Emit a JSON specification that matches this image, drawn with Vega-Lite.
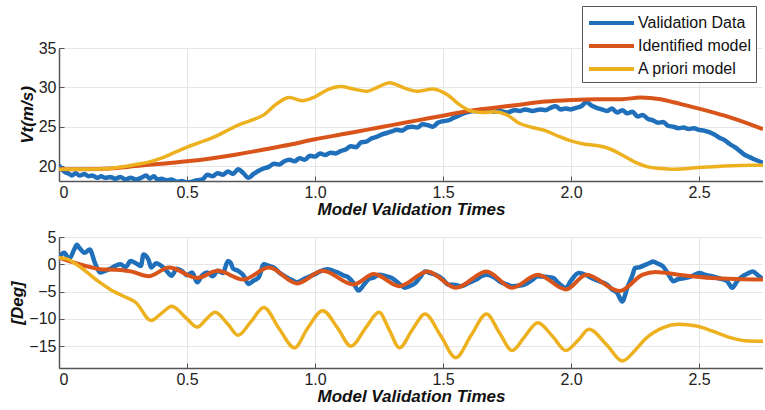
{
  "$schema": "https://vega.github.io/schema/vega-lite/v6.json",
  "padding": {"left": 8, "top": 5, "right": 0, "bottom": 3},
  "spacing": 12,
  "background": "white",
  "config": {
    "view": {"stroke": null},
    "font": "Liberation Sans",
    "axis": {
      "labelFont": "Liberation Sans",
      "labelFontSize": 16,
      "labelColor": "#222",
      "titleFont": "Liberation Sans",
      "titleFontSize": 17,
      "titleFontWeight": "bold",
      "titleFontStyle": "italic",
      "titleColor": "#111",
      "grid": true,
      "gridColor": "#e6e6e6",
      "domainColor": "#555",
      "domainWidth": 1.5,
      "tickColor": "#555",
      "tickSize": -5,
      "labelPadding": 8
    },
    "legend": {
      "labelFont": "Liberation Sans",
      "labelFontSize": 16,
      "labelColor": "#111"
    }
  },
  "datasets": {
    "top": [
      {"t": 0, "v": 20.1, "s": "Validation Data"},
      {"t": 0.01, "v": 19.6, "s": "Validation Data"},
      {"t": 0.025, "v": 19.2, "s": "Validation Data"},
      {"t": 0.04, "v": 19.0, "s": "Validation Data"},
      {"t": 0.05, "v": 18.8, "s": "Validation Data"},
      {"t": 0.065, "v": 19.1, "s": "Validation Data"},
      {"t": 0.08, "v": 18.8, "s": "Validation Data"},
      {"t": 0.1, "v": 19.0, "s": "Validation Data"},
      {"t": 0.115, "v": 18.7, "s": "Validation Data"},
      {"t": 0.13, "v": 18.8, "s": "Validation Data"},
      {"t": 0.15, "v": 18.5, "s": "Validation Data"},
      {"t": 0.165, "v": 18.7, "s": "Validation Data"},
      {"t": 0.18, "v": 18.5, "s": "Validation Data"},
      {"t": 0.2, "v": 18.6, "s": "Validation Data"},
      {"t": 0.22, "v": 18.4, "s": "Validation Data"},
      {"t": 0.24, "v": 18.6, "s": "Validation Data"},
      {"t": 0.26, "v": 18.3, "s": "Validation Data"},
      {"t": 0.28, "v": 18.5, "s": "Validation Data"},
      {"t": 0.3, "v": 18.3, "s": "Validation Data"},
      {"t": 0.32, "v": 18.5, "s": "Validation Data"},
      {"t": 0.34, "v": 18.8, "s": "Validation Data"},
      {"t": 0.355, "v": 18.4, "s": "Validation Data"},
      {"t": 0.37, "v": 18.7, "s": "Validation Data"},
      {"t": 0.385, "v": 18.3, "s": "Validation Data"},
      {"t": 0.4, "v": 18.4, "s": "Validation Data"},
      {"t": 0.42, "v": 18.2, "s": "Validation Data"},
      {"t": 0.44, "v": 18.3, "s": "Validation Data"},
      {"t": 0.46, "v": 18.0, "s": "Validation Data"},
      {"t": 0.48, "v": 18.1, "s": "Validation Data"},
      {"t": 0.5, "v": 17.9, "s": "Validation Data"},
      {"t": 0.52, "v": 18.0, "s": "Validation Data"},
      {"t": 0.54, "v": 18.2, "s": "Validation Data"},
      {"t": 0.56, "v": 18.3, "s": "Validation Data"},
      {"t": 0.58, "v": 18.9, "s": "Validation Data"},
      {"t": 0.6, "v": 18.7, "s": "Validation Data"},
      {"t": 0.62, "v": 19.1, "s": "Validation Data"},
      {"t": 0.64, "v": 18.9, "s": "Validation Data"},
      {"t": 0.66, "v": 19.3, "s": "Validation Data"},
      {"t": 0.68, "v": 19.0, "s": "Validation Data"},
      {"t": 0.7, "v": 19.6, "s": "Validation Data"},
      {"t": 0.72, "v": 19.1, "s": "Validation Data"},
      {"t": 0.74, "v": 18.5, "s": "Validation Data"},
      {"t": 0.76, "v": 19.0, "s": "Validation Data"},
      {"t": 0.78, "v": 19.4, "s": "Validation Data"},
      {"t": 0.8, "v": 19.7, "s": "Validation Data"},
      {"t": 0.82, "v": 19.9, "s": "Validation Data"},
      {"t": 0.84, "v": 20.3, "s": "Validation Data"},
      {"t": 0.86, "v": 20.2, "s": "Validation Data"},
      {"t": 0.88, "v": 20.6, "s": "Validation Data"},
      {"t": 0.9, "v": 20.8, "s": "Validation Data"},
      {"t": 0.92, "v": 20.6, "s": "Validation Data"},
      {"t": 0.94, "v": 21.0, "s": "Validation Data"},
      {"t": 0.96, "v": 20.8, "s": "Validation Data"},
      {"t": 0.98, "v": 21.3, "s": "Validation Data"},
      {"t": 1.0, "v": 21.2, "s": "Validation Data"},
      {"t": 1.02, "v": 21.6, "s": "Validation Data"},
      {"t": 1.04, "v": 21.4, "s": "Validation Data"},
      {"t": 1.06, "v": 21.7, "s": "Validation Data"},
      {"t": 1.08, "v": 21.6, "s": "Validation Data"},
      {"t": 1.1, "v": 21.9, "s": "Validation Data"},
      {"t": 1.12, "v": 22.1, "s": "Validation Data"},
      {"t": 1.14, "v": 22.5, "s": "Validation Data"},
      {"t": 1.16, "v": 22.4, "s": "Validation Data"},
      {"t": 1.18, "v": 23.0, "s": "Validation Data"},
      {"t": 1.2, "v": 23.1, "s": "Validation Data"},
      {"t": 1.22, "v": 23.5, "s": "Validation Data"},
      {"t": 1.24, "v": 23.7, "s": "Validation Data"},
      {"t": 1.26, "v": 24.0, "s": "Validation Data"},
      {"t": 1.28, "v": 24.2, "s": "Validation Data"},
      {"t": 1.3, "v": 24.4, "s": "Validation Data"},
      {"t": 1.32, "v": 24.6, "s": "Validation Data"},
      {"t": 1.34, "v": 24.5, "s": "Validation Data"},
      {"t": 1.36, "v": 24.9, "s": "Validation Data"},
      {"t": 1.38, "v": 25.0, "s": "Validation Data"},
      {"t": 1.4, "v": 24.9, "s": "Validation Data"},
      {"t": 1.42, "v": 25.3, "s": "Validation Data"},
      {"t": 1.44, "v": 25.2, "s": "Validation Data"},
      {"t": 1.46, "v": 25.0, "s": "Validation Data"},
      {"t": 1.48, "v": 25.5, "s": "Validation Data"},
      {"t": 1.5, "v": 25.7, "s": "Validation Data"},
      {"t": 1.52, "v": 25.8, "s": "Validation Data"},
      {"t": 1.54, "v": 26.1, "s": "Validation Data"},
      {"t": 1.56, "v": 26.4, "s": "Validation Data"},
      {"t": 1.58, "v": 26.7, "s": "Validation Data"},
      {"t": 1.6, "v": 26.9, "s": "Validation Data"},
      {"t": 1.62, "v": 27.0, "s": "Validation Data"},
      {"t": 1.65, "v": 26.9, "s": "Validation Data"},
      {"t": 1.68, "v": 27.1, "s": "Validation Data"},
      {"t": 1.7, "v": 26.9, "s": "Validation Data"},
      {"t": 1.72, "v": 27.0, "s": "Validation Data"},
      {"t": 1.75, "v": 26.8, "s": "Validation Data"},
      {"t": 1.78, "v": 27.1, "s": "Validation Data"},
      {"t": 1.8, "v": 27.0, "s": "Validation Data"},
      {"t": 1.82, "v": 27.2, "s": "Validation Data"},
      {"t": 1.85, "v": 27.0, "s": "Validation Data"},
      {"t": 1.88, "v": 27.2, "s": "Validation Data"},
      {"t": 1.9, "v": 27.1, "s": "Validation Data"},
      {"t": 1.92, "v": 27.4, "s": "Validation Data"},
      {"t": 1.94, "v": 27.6, "s": "Validation Data"},
      {"t": 1.96, "v": 27.2, "s": "Validation Data"},
      {"t": 1.98, "v": 27.3, "s": "Validation Data"},
      {"t": 2.0, "v": 27.2, "s": "Validation Data"},
      {"t": 2.02, "v": 27.4, "s": "Validation Data"},
      {"t": 2.04, "v": 27.6, "s": "Validation Data"},
      {"t": 2.06, "v": 28.1, "s": "Validation Data"},
      {"t": 2.08, "v": 27.7, "s": "Validation Data"},
      {"t": 2.1, "v": 27.4, "s": "Validation Data"},
      {"t": 2.12, "v": 27.2, "s": "Validation Data"},
      {"t": 2.14, "v": 27.0, "s": "Validation Data"},
      {"t": 2.16, "v": 27.3, "s": "Validation Data"},
      {"t": 2.18, "v": 26.8, "s": "Validation Data"},
      {"t": 2.2, "v": 27.1, "s": "Validation Data"},
      {"t": 2.22, "v": 26.7, "s": "Validation Data"},
      {"t": 2.24, "v": 26.9, "s": "Validation Data"},
      {"t": 2.26, "v": 26.3, "s": "Validation Data"},
      {"t": 2.28, "v": 26.5, "s": "Validation Data"},
      {"t": 2.3, "v": 26.0, "s": "Validation Data"},
      {"t": 2.32, "v": 25.8, "s": "Validation Data"},
      {"t": 2.34, "v": 25.5, "s": "Validation Data"},
      {"t": 2.36, "v": 25.6, "s": "Validation Data"},
      {"t": 2.38, "v": 25.1, "s": "Validation Data"},
      {"t": 2.4, "v": 25.0, "s": "Validation Data"},
      {"t": 2.42, "v": 24.8, "s": "Validation Data"},
      {"t": 2.44, "v": 24.9, "s": "Validation Data"},
      {"t": 2.46, "v": 24.7, "s": "Validation Data"},
      {"t": 2.48, "v": 24.8, "s": "Validation Data"},
      {"t": 2.5, "v": 24.6, "s": "Validation Data"},
      {"t": 2.52, "v": 24.5, "s": "Validation Data"},
      {"t": 2.54, "v": 24.3, "s": "Validation Data"},
      {"t": 2.56, "v": 24.0, "s": "Validation Data"},
      {"t": 2.58, "v": 23.6, "s": "Validation Data"},
      {"t": 2.6, "v": 23.3, "s": "Validation Data"},
      {"t": 2.62, "v": 22.8, "s": "Validation Data"},
      {"t": 2.64, "v": 22.4, "s": "Validation Data"},
      {"t": 2.66, "v": 21.9, "s": "Validation Data"},
      {"t": 2.68, "v": 21.4, "s": "Validation Data"},
      {"t": 2.7, "v": 21.1, "s": "Validation Data"},
      {"t": 2.72, "v": 20.8, "s": "Validation Data"},
      {"t": 2.75, "v": 20.4, "s": "Validation Data"},
      {"t": 0, "v": 19.6, "s": "Identified model"},
      {"t": 0.1, "v": 19.6, "s": "Identified model"},
      {"t": 0.2, "v": 19.7, "s": "Identified model"},
      {"t": 0.3, "v": 20.0, "s": "Identified model"},
      {"t": 0.4, "v": 20.3, "s": "Identified model"},
      {"t": 0.5, "v": 20.6, "s": "Identified model"},
      {"t": 0.6, "v": 21.0, "s": "Identified model"},
      {"t": 0.7, "v": 21.5, "s": "Identified model"},
      {"t": 0.8, "v": 22.1, "s": "Identified model"},
      {"t": 0.9, "v": 22.7, "s": "Identified model"},
      {"t": 1.0, "v": 23.4, "s": "Identified model"},
      {"t": 1.1, "v": 24.0, "s": "Identified model"},
      {"t": 1.2, "v": 24.6, "s": "Identified model"},
      {"t": 1.3, "v": 25.2, "s": "Identified model"},
      {"t": 1.4, "v": 25.8, "s": "Identified model"},
      {"t": 1.5, "v": 26.4, "s": "Identified model"},
      {"t": 1.6, "v": 27.0, "s": "Identified model"},
      {"t": 1.7, "v": 27.4, "s": "Identified model"},
      {"t": 1.8, "v": 27.8, "s": "Identified model"},
      {"t": 1.9, "v": 28.2, "s": "Identified model"},
      {"t": 2.0, "v": 28.4, "s": "Identified model"},
      {"t": 2.1, "v": 28.5, "s": "Identified model"},
      {"t": 2.2, "v": 28.5, "s": "Identified model"},
      {"t": 2.27, "v": 28.7, "s": "Identified model"},
      {"t": 2.35, "v": 28.5, "s": "Identified model"},
      {"t": 2.4, "v": 28.1, "s": "Identified model"},
      {"t": 2.5, "v": 27.3, "s": "Identified model"},
      {"t": 2.6, "v": 26.4, "s": "Identified model"},
      {"t": 2.7, "v": 25.3, "s": "Identified model"},
      {"t": 2.75, "v": 24.7, "s": "Identified model"},
      {"t": 0, "v": 19.6, "s": "A priori model"},
      {"t": 0.1, "v": 19.6, "s": "A priori model"},
      {"t": 0.2, "v": 19.7, "s": "A priori model"},
      {"t": 0.25, "v": 19.9, "s": "A priori model"},
      {"t": 0.3, "v": 20.2, "s": "A priori model"},
      {"t": 0.35, "v": 20.5, "s": "A priori model"},
      {"t": 0.4, "v": 21.0, "s": "A priori model"},
      {"t": 0.45, "v": 21.7, "s": "A priori model"},
      {"t": 0.5, "v": 22.4, "s": "A priori model"},
      {"t": 0.55, "v": 23.0, "s": "A priori model"},
      {"t": 0.6, "v": 23.6, "s": "A priori model"},
      {"t": 0.65, "v": 24.4, "s": "A priori model"},
      {"t": 0.7, "v": 25.2, "s": "A priori model"},
      {"t": 0.75, "v": 25.8, "s": "A priori model"},
      {"t": 0.8, "v": 26.5, "s": "A priori model"},
      {"t": 0.85, "v": 27.9, "s": "A priori model"},
      {"t": 0.9, "v": 28.7, "s": "A priori model"},
      {"t": 0.95, "v": 28.3, "s": "A priori model"},
      {"t": 1.0, "v": 28.8, "s": "A priori model"},
      {"t": 1.05, "v": 29.7, "s": "A priori model"},
      {"t": 1.1, "v": 30.1, "s": "A priori model"},
      {"t": 1.15, "v": 29.8, "s": "A priori model"},
      {"t": 1.2, "v": 29.5, "s": "A priori model"},
      {"t": 1.25, "v": 30.1, "s": "A priori model"},
      {"t": 1.29, "v": 30.6, "s": "A priori model"},
      {"t": 1.35, "v": 29.9, "s": "A priori model"},
      {"t": 1.4, "v": 29.5, "s": "A priori model"},
      {"t": 1.46, "v": 29.8, "s": "A priori model"},
      {"t": 1.52, "v": 29.0, "s": "A priori model"},
      {"t": 1.56, "v": 27.9, "s": "A priori model"},
      {"t": 1.6, "v": 27.1, "s": "A priori model"},
      {"t": 1.65, "v": 26.8, "s": "A priori model"},
      {"t": 1.7, "v": 26.9, "s": "A priori model"},
      {"t": 1.75, "v": 26.5, "s": "A priori model"},
      {"t": 1.8, "v": 25.4, "s": "A priori model"},
      {"t": 1.85, "v": 24.9, "s": "A priori model"},
      {"t": 1.9, "v": 24.5, "s": "A priori model"},
      {"t": 1.95, "v": 23.8, "s": "A priori model"},
      {"t": 2.0, "v": 23.2, "s": "A priori model"},
      {"t": 2.05, "v": 22.8, "s": "A priori model"},
      {"t": 2.1, "v": 22.6, "s": "A priori model"},
      {"t": 2.15, "v": 22.2, "s": "A priori model"},
      {"t": 2.2, "v": 21.4, "s": "A priori model"},
      {"t": 2.25, "v": 20.5, "s": "A priori model"},
      {"t": 2.3, "v": 19.9, "s": "A priori model"},
      {"t": 2.35, "v": 19.7, "s": "A priori model"},
      {"t": 2.4, "v": 19.6, "s": "A priori model"},
      {"t": 2.5, "v": 19.8, "s": "A priori model"},
      {"t": 2.6, "v": 20.0, "s": "A priori model"},
      {"t": 2.7, "v": 20.1, "s": "A priori model"},
      {"t": 2.75, "v": 20.1, "s": "A priori model"}
    ],
    "bottom": [
      {"t": 0, "v": 1.2, "s": "Validation Data"},
      {"t": 0.02, "v": 2.1, "s": "Validation Data"},
      {"t": 0.04, "v": 1.0, "s": "Validation Data"},
      {"t": 0.06, "v": 2.8, "s": "Validation Data"},
      {"t": 0.07, "v": 3.6, "s": "Validation Data"},
      {"t": 0.08, "v": 3.0, "s": "Validation Data"},
      {"t": 0.1, "v": 2.1, "s": "Validation Data"},
      {"t": 0.12, "v": 2.7, "s": "Validation Data"},
      {"t": 0.14, "v": 0.3, "s": "Validation Data"},
      {"t": 0.16, "v": -1.5, "s": "Validation Data"},
      {"t": 0.18, "v": -1.2, "s": "Validation Data"},
      {"t": 0.2, "v": -0.8, "s": "Validation Data"},
      {"t": 0.22, "v": -0.3, "s": "Validation Data"},
      {"t": 0.24, "v": 0.0, "s": "Validation Data"},
      {"t": 0.26, "v": -0.5, "s": "Validation Data"},
      {"t": 0.28, "v": 0.6, "s": "Validation Data"},
      {"t": 0.3, "v": 0.2, "s": "Validation Data"},
      {"t": 0.32, "v": -0.3, "s": "Validation Data"},
      {"t": 0.33, "v": 1.8, "s": "Validation Data"},
      {"t": 0.35, "v": 0.8, "s": "Validation Data"},
      {"t": 0.36, "v": -0.6, "s": "Validation Data"},
      {"t": 0.38, "v": 0.2, "s": "Validation Data"},
      {"t": 0.4, "v": -0.3, "s": "Validation Data"},
      {"t": 0.42, "v": -1.2, "s": "Validation Data"},
      {"t": 0.44, "v": -2.1, "s": "Validation Data"},
      {"t": 0.46, "v": -0.8, "s": "Validation Data"},
      {"t": 0.48, "v": -1.2, "s": "Validation Data"},
      {"t": 0.5, "v": -2.0, "s": "Validation Data"},
      {"t": 0.52, "v": -1.5, "s": "Validation Data"},
      {"t": 0.54, "v": -3.3, "s": "Validation Data"},
      {"t": 0.56, "v": -2.0, "s": "Validation Data"},
      {"t": 0.58, "v": -1.5, "s": "Validation Data"},
      {"t": 0.6, "v": -2.2, "s": "Validation Data"},
      {"t": 0.62, "v": -1.2, "s": "Validation Data"},
      {"t": 0.64, "v": -1.6, "s": "Validation Data"},
      {"t": 0.66, "v": 0.6, "s": "Validation Data"},
      {"t": 0.67, "v": 0.3, "s": "Validation Data"},
      {"t": 0.68, "v": -0.8, "s": "Validation Data"},
      {"t": 0.7, "v": -1.2, "s": "Validation Data"},
      {"t": 0.72, "v": -2.0, "s": "Validation Data"},
      {"t": 0.74, "v": -3.6, "s": "Validation Data"},
      {"t": 0.76, "v": -3.0, "s": "Validation Data"},
      {"t": 0.78, "v": -2.4, "s": "Validation Data"},
      {"t": 0.8, "v": 0.0, "s": "Validation Data"},
      {"t": 0.82, "v": -0.3, "s": "Validation Data"},
      {"t": 0.84, "v": -0.6, "s": "Validation Data"},
      {"t": 0.86, "v": -1.5, "s": "Validation Data"},
      {"t": 0.89, "v": -2.4, "s": "Validation Data"},
      {"t": 0.91, "v": -2.9, "s": "Validation Data"},
      {"t": 0.93, "v": -3.3, "s": "Validation Data"},
      {"t": 0.96, "v": -2.6, "s": "Validation Data"},
      {"t": 1.0, "v": -1.8, "s": "Validation Data"},
      {"t": 1.02, "v": -1.3, "s": "Validation Data"},
      {"t": 1.05, "v": -0.9, "s": "Validation Data"},
      {"t": 1.07, "v": -1.2, "s": "Validation Data"},
      {"t": 1.09, "v": -1.5, "s": "Validation Data"},
      {"t": 1.11, "v": -2.0, "s": "Validation Data"},
      {"t": 1.13, "v": -2.4, "s": "Validation Data"},
      {"t": 1.15, "v": -3.4, "s": "Validation Data"},
      {"t": 1.17, "v": -4.8, "s": "Validation Data"},
      {"t": 1.19, "v": -3.8, "s": "Validation Data"},
      {"t": 1.21, "v": -2.7, "s": "Validation Data"},
      {"t": 1.23, "v": -2.4, "s": "Validation Data"},
      {"t": 1.25, "v": -1.9, "s": "Validation Data"},
      {"t": 1.28, "v": -2.2, "s": "Validation Data"},
      {"t": 1.3, "v": -2.5, "s": "Validation Data"},
      {"t": 1.33, "v": -3.6, "s": "Validation Data"},
      {"t": 1.35, "v": -4.3, "s": "Validation Data"},
      {"t": 1.37, "v": -4.0, "s": "Validation Data"},
      {"t": 1.39, "v": -3.5, "s": "Validation Data"},
      {"t": 1.41, "v": -2.4, "s": "Validation Data"},
      {"t": 1.43, "v": -1.3, "s": "Validation Data"},
      {"t": 1.45, "v": -1.6, "s": "Validation Data"},
      {"t": 1.47, "v": -1.9, "s": "Validation Data"},
      {"t": 1.5, "v": -2.8, "s": "Validation Data"},
      {"t": 1.52, "v": -3.7, "s": "Validation Data"},
      {"t": 1.55, "v": -3.8, "s": "Validation Data"},
      {"t": 1.57, "v": -4.0, "s": "Validation Data"},
      {"t": 1.6, "v": -3.4, "s": "Validation Data"},
      {"t": 1.63, "v": -2.8, "s": "Validation Data"},
      {"t": 1.65, "v": -2.2, "s": "Validation Data"},
      {"t": 1.67, "v": -1.9, "s": "Validation Data"},
      {"t": 1.7, "v": -2.4, "s": "Validation Data"},
      {"t": 1.72, "v": -3.1, "s": "Validation Data"},
      {"t": 1.75, "v": -3.7, "s": "Validation Data"},
      {"t": 1.77, "v": -4.0, "s": "Validation Data"},
      {"t": 1.8, "v": -3.9, "s": "Validation Data"},
      {"t": 1.82, "v": -3.7, "s": "Validation Data"},
      {"t": 1.85, "v": -2.8, "s": "Validation Data"},
      {"t": 1.87, "v": -2.2, "s": "Validation Data"},
      {"t": 1.9, "v": -2.3, "s": "Validation Data"},
      {"t": 1.93, "v": -2.5, "s": "Validation Data"},
      {"t": 1.95, "v": -3.4, "s": "Validation Data"},
      {"t": 1.98, "v": -4.3, "s": "Validation Data"},
      {"t": 2.0, "v": -3.0, "s": "Validation Data"},
      {"t": 2.03, "v": -1.6, "s": "Validation Data"},
      {"t": 2.06, "v": -2.0, "s": "Validation Data"},
      {"t": 2.08, "v": -2.5, "s": "Validation Data"},
      {"t": 2.11, "v": -3.1, "s": "Validation Data"},
      {"t": 2.14, "v": -3.7, "s": "Validation Data"},
      {"t": 2.16, "v": -4.6, "s": "Validation Data"},
      {"t": 2.18, "v": -5.2, "s": "Validation Data"},
      {"t": 2.2, "v": -6.8, "s": "Validation Data"},
      {"t": 2.22, "v": -4.3, "s": "Validation Data"},
      {"t": 2.24, "v": -2.0, "s": "Validation Data"},
      {"t": 2.25, "v": -0.7, "s": "Validation Data"},
      {"t": 2.27, "v": -0.5, "s": "Validation Data"},
      {"t": 2.29, "v": -0.1, "s": "Validation Data"},
      {"t": 2.31, "v": 0.3, "s": "Validation Data"},
      {"t": 2.32, "v": 0.5, "s": "Validation Data"},
      {"t": 2.34, "v": 0.1, "s": "Validation Data"},
      {"t": 2.36, "v": -0.4, "s": "Validation Data"},
      {"t": 2.38, "v": -1.8, "s": "Validation Data"},
      {"t": 2.4, "v": -3.1, "s": "Validation Data"},
      {"t": 2.42, "v": -2.7, "s": "Validation Data"},
      {"t": 2.45, "v": -2.5, "s": "Validation Data"},
      {"t": 2.48, "v": -2.0, "s": "Validation Data"},
      {"t": 2.5, "v": -1.6, "s": "Validation Data"},
      {"t": 2.53, "v": -2.0, "s": "Validation Data"},
      {"t": 2.55, "v": -2.2, "s": "Validation Data"},
      {"t": 2.58, "v": -2.6, "s": "Validation Data"},
      {"t": 2.61, "v": -3.1, "s": "Validation Data"},
      {"t": 2.63, "v": -4.3, "s": "Validation Data"},
      {"t": 2.65, "v": -3.0, "s": "Validation Data"},
      {"t": 2.67, "v": -2.2, "s": "Validation Data"},
      {"t": 2.69, "v": -1.7, "s": "Validation Data"},
      {"t": 2.71, "v": -1.3, "s": "Validation Data"},
      {"t": 2.73, "v": -2.0, "s": "Validation Data"},
      {"t": 2.75, "v": -2.8, "s": "Validation Data"},
      {"t": 0, "v": 1.2, "s": "Identified model"},
      {"t": 0.04, "v": 0.6, "s": "Identified model"},
      {"t": 0.08, "v": 0.0, "s": "Identified model"},
      {"t": 0.12, "v": -0.5, "s": "Identified model"},
      {"t": 0.16, "v": -0.9, "s": "Identified model"},
      {"t": 0.22, "v": -1.0, "s": "Identified model"},
      {"t": 0.28, "v": -1.3, "s": "Identified model"},
      {"t": 0.35, "v": -2.2, "s": "Identified model"},
      {"t": 0.43, "v": -0.6, "s": "Identified model"},
      {"t": 0.54, "v": -2.5, "s": "Identified model"},
      {"t": 0.62, "v": -1.2, "s": "Identified model"},
      {"t": 0.72, "v": -2.8, "s": "Identified model"},
      {"t": 0.82, "v": -0.6, "s": "Identified model"},
      {"t": 0.93, "v": -3.5, "s": "Identified model"},
      {"t": 1.03, "v": -1.2, "s": "Identified model"},
      {"t": 1.15, "v": -3.7, "s": "Identified model"},
      {"t": 1.23, "v": -1.8, "s": "Identified model"},
      {"t": 1.33, "v": -4.0, "s": "Identified model"},
      {"t": 1.44, "v": -1.3, "s": "Identified model"},
      {"t": 1.55, "v": -4.3, "s": "Identified model"},
      {"t": 1.67, "v": -1.3, "s": "Identified model"},
      {"t": 1.77, "v": -4.3, "s": "Identified model"},
      {"t": 1.87, "v": -1.9, "s": "Identified model"},
      {"t": 1.98, "v": -4.6, "s": "Identified model"},
      {"t": 2.06, "v": -1.9, "s": "Identified model"},
      {"t": 2.19, "v": -4.9, "s": "Identified model"},
      {"t": 2.28, "v": -1.9, "s": "Identified model"},
      {"t": 2.33, "v": -1.4, "s": "Identified model"},
      {"t": 2.42, "v": -1.9, "s": "Identified model"},
      {"t": 2.55, "v": -2.5, "s": "Identified model"},
      {"t": 2.65, "v": -2.7, "s": "Identified model"},
      {"t": 2.75, "v": -2.8, "s": "Identified model"},
      {"t": 0, "v": 1.2, "s": "A priori model"},
      {"t": 0.03, "v": 1.0, "s": "A priori model"},
      {"t": 0.08, "v": -0.4, "s": "A priori model"},
      {"t": 0.15, "v": -3.0, "s": "A priori model"},
      {"t": 0.2, "v": -4.6, "s": "A priori model"},
      {"t": 0.25, "v": -5.8, "s": "A priori model"},
      {"t": 0.3, "v": -7.0, "s": "A priori model"},
      {"t": 0.36, "v": -10.3, "s": "A priori model"},
      {"t": 0.4, "v": -9.0, "s": "A priori model"},
      {"t": 0.44, "v": -7.7, "s": "A priori model"},
      {"t": 0.5, "v": -10.0, "s": "A priori model"},
      {"t": 0.54, "v": -11.5, "s": "A priori model"},
      {"t": 0.58, "v": -9.8, "s": "A priori model"},
      {"t": 0.61, "v": -8.8, "s": "A priori model"},
      {"t": 0.66, "v": -11.0, "s": "A priori model"},
      {"t": 0.7, "v": -13.0, "s": "A priori model"},
      {"t": 0.75, "v": -10.5, "s": "A priori model"},
      {"t": 0.8, "v": -7.9, "s": "A priori model"},
      {"t": 0.86, "v": -11.8, "s": "A priori model"},
      {"t": 0.92, "v": -15.3, "s": "A priori model"},
      {"t": 0.97, "v": -11.8, "s": "A priori model"},
      {"t": 1.03, "v": -8.5, "s": "A priori model"},
      {"t": 1.09, "v": -11.8, "s": "A priori model"},
      {"t": 1.14, "v": -15.0, "s": "A priori model"},
      {"t": 1.2, "v": -11.5, "s": "A priori model"},
      {"t": 1.25, "v": -8.8, "s": "A priori model"},
      {"t": 1.29, "v": -12.0, "s": "A priori model"},
      {"t": 1.33, "v": -15.3, "s": "A priori model"},
      {"t": 1.38, "v": -12.0, "s": "A priori model"},
      {"t": 1.43, "v": -9.1, "s": "A priori model"},
      {"t": 1.49, "v": -13.0, "s": "A priori model"},
      {"t": 1.55, "v": -17.1, "s": "A priori model"},
      {"t": 1.61, "v": -13.0, "s": "A priori model"},
      {"t": 1.67, "v": -9.1, "s": "A priori model"},
      {"t": 1.72, "v": -12.5, "s": "A priori model"},
      {"t": 1.77, "v": -15.8, "s": "A priori model"},
      {"t": 1.82, "v": -13.2, "s": "A priori model"},
      {"t": 1.87, "v": -10.7, "s": "A priori model"},
      {"t": 1.93, "v": -13.3, "s": "A priori model"},
      {"t": 1.98, "v": -15.8, "s": "A priori model"},
      {"t": 2.03, "v": -13.8, "s": "A priori model"},
      {"t": 2.07, "v": -11.9, "s": "A priori model"},
      {"t": 2.14, "v": -14.8, "s": "A priori model"},
      {"t": 2.2, "v": -17.7, "s": "A priori model"},
      {"t": 2.25, "v": -15.8, "s": "A priori model"},
      {"t": 2.29, "v": -13.7, "s": "A priori model"},
      {"t": 2.36, "v": -11.6, "s": "A priori model"},
      {"t": 2.42, "v": -11.0, "s": "A priori model"},
      {"t": 2.49, "v": -11.3, "s": "A priori model"},
      {"t": 2.55, "v": -12.2, "s": "A priori model"},
      {"t": 2.62, "v": -13.4, "s": "A priori model"},
      {"t": 2.68, "v": -14.0, "s": "A priori model"},
      {"t": 2.75, "v": -14.1, "s": "A priori model"}
    ]
  },
  "resolve": {"legend": {"color": "independent"}},
  "vconcat": [
    {
      "width": 704,
      "height": 133,
      "data": {"name": "top"},
      "mark": {"type": "line", "interpolate": "monotone", "clip": true},
      "encoding": {
        "x": {
          "field": "t", "type": "quantitative",
          "scale": {"domain": [0, 2.75], "nice": false},
          "axis": {"values": [0, 0.5, 1, 1.5, 2, 2.5], "labelExpr": "datum.value == 0 ? '0' : format(datum.value, '.1f')", "title": "Model Validation Times", "titlePadding": 1}
        },
        "y": {
          "field": "v", "type": "quantitative",
          "scale": {"domain": [18.1, 35], "nice": false, "zero": false},
          "axis": {"values": [20, 25, 30, 35], "title": "Vt(m/s)", "titlePadding": 2}
        },
        "color": {
          "field": "s", "type": "nominal",
          "scale": {"domain": ["Validation Data", "Identified model", "A priori model"], "range": ["#1f6fba", "#d9541a", "#edb120"]},
          "legend": {
            "title": null,
            "orient": "none",
            "legendX": 523,
            "legendY": -42,
            "symbolType": "M-1,0H3.5",
            "symbolSize": 400,
            "symbolStrokeWidth": 4,
            "labelOffset": 27,
            "rowPadding": 3,
            "padding": 5,
            "strokeColor": "#555",
            "fillColor": "white"
          }
        },
        "strokeWidth": {
          "field": "s", "type": "nominal",
          "scale": {"domain": ["Validation Data", "Identified model", "A priori model"], "range": [4.5, 3.5, 3]},
          "legend": null
        }
      }
    },
    {
      "width": 704,
      "height": 131,
      "data": {"name": "bottom"},
      "mark": {"type": "line", "interpolate": "monotone", "clip": true},
      "encoding": {
        "x": {
          "field": "t", "type": "quantitative",
          "scale": {"domain": [0, 2.75], "nice": false},
          "axis": {"values": [0, 0.5, 1, 1.5, 2, 2.5], "labelExpr": "datum.value == 0 ? '0' : format(datum.value, '.1f')", "title": "Model Validation Times", "titlePadding": 1}
        },
        "y": {
          "field": "v", "type": "quantitative",
          "scale": {"domain": [-19, 5], "nice": false, "zero": false},
          "axis": {"values": [5, 0, -5, -10, -15], "title": "[Deg]", "titlePadding": 2}
        },
        "color": {
          "field": "s", "type": "nominal",
          "scale": {"domain": ["Validation Data", "Identified model", "A priori model"], "range": ["#1f6fba", "#d9541a", "#edb120"]},
          "legend": null
        },
        "strokeWidth": {
          "field": "s", "type": "nominal",
          "scale": {"domain": ["Validation Data", "Identified model", "A priori model"], "range": [4.5, 3.5, 3]},
          "legend": null
        }
      }
    }
  ]
}
